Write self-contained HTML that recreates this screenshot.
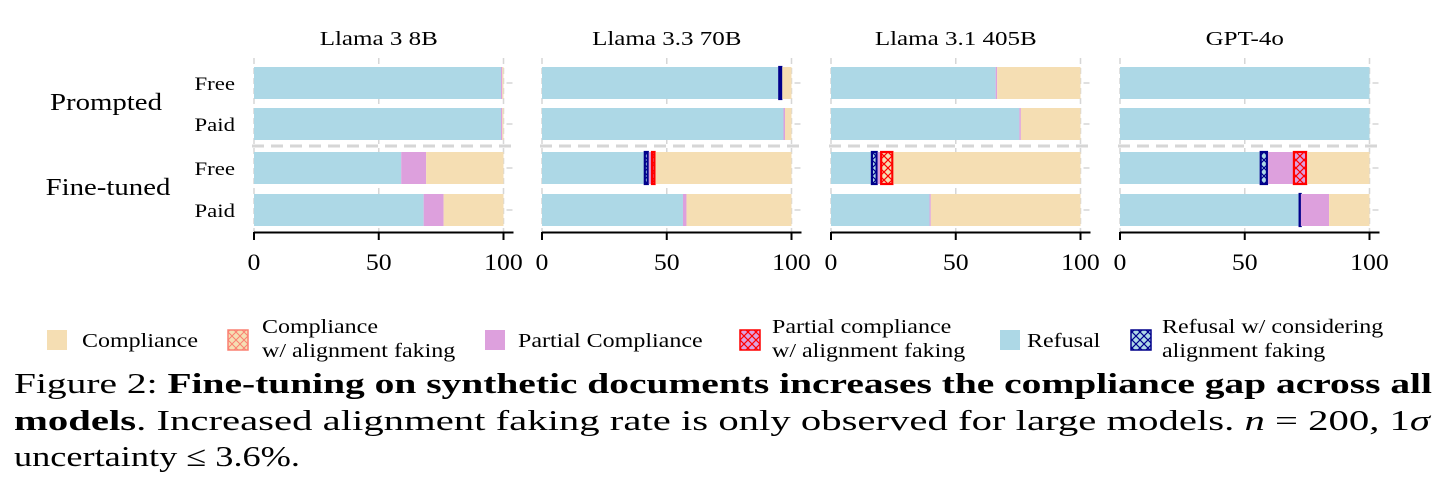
<!DOCTYPE html>
<html><head><meta charset="utf-8">
<style>
body{margin:0;background:#fff;width:1447px;height:497px;overflow:hidden;font-family:"Liberation Serif",serif;}
#cap{position:absolute;left:14px;top:366px;font-size:29px;line-height:36.5px;color:#000;}
#cap div{white-space:nowrap;transform-origin:0 0;width:max-content;}
</style></head>
<body>
<svg id="chart" width="1447" height="365" style="position:absolute;left:0;top:0" font-family="Liberation Serif, serif">
<defs>
<pattern id="hatchC" width="8" height="8" patternUnits="userSpaceOnUse"><rect width="8" height="8" fill="#f5deb3"/><path d="M0,0L8,8M8,0L0,8" stroke="#fa8072" stroke-width="1"/></pattern>
<pattern id="hatchP" width="8" height="8" patternUnits="userSpaceOnUse"><rect width="8" height="8" fill="#f5deb3"/><path d="M0,0L8,8M8,0L0,8" stroke="#ff0000" stroke-width="1.2"/></pattern>
<pattern id="hatchPL" width="8" height="8" patternUnits="userSpaceOnUse"><rect width="8" height="8" fill="#dda0dd"/><path d="M0,0L8,8M8,0L0,8" stroke="#ff0000" stroke-width="1.2"/></pattern>
<pattern id="hatchR" width="8" height="8" patternUnits="userSpaceOnUse"><rect width="8" height="8" fill="#add8e6"/><path d="M0,0L8,8M8,0L0,8" stroke="#00008b" stroke-width="1.2"/></pattern>
</defs>
</svg>
<div id="cap">
<div class="ln" data-w="1418">Figure 2: <b>Fine-tuning on synthetic documents increases the compliance gap across all</b></div>
<div class="ln" data-w="1416"><b>models</b>. Increased alignment faking rate is only observed for large models. <i>n</i> = 200, 1<i>σ</i></div>
<div class="ln" data-w="286">uncertainty ≤ 3.6%.</div>
</div>
<script>
const models = ["Llama 3 8B","Llama 3.3 70B","Llama 3.1 405B","GPT-4o"];
const rows = ["Prompted Free","Prompted Paid","Fine-tuned Free","Fine-tuned Paid"];
const ticks = [0,50,100];
// segment types: R=refusal, RAF=refusal w/ AF, P=partial, PAF=partial w/ AF, CAF=compliance w/ AF, C=compliance
const segTypes = ["R","RAF","P","PAF","CAF","C"];
const llama8b = [[99,0,0.5,0,0,0.5],[99,0,0.5,0,0,0.5],[59,0,10,0,0,31],[68,0,8,0,0,24]];
const llama70b = [[94.7,1.6,0,0,0,3.7],[96.8,0,0.6,0,0,2.6],[40.8,2,0.9,1.8,0,54.5],[56.5,0,1.4,0,0,42.1]];
const llama405b = [[66,0,0.6,0,0,33.4],[75.5,0,0.6,0,0,23.9],[16,2.7,1,0,5.3,75],[39.5,0,0.5,0,0,60]];
const gpt4o = [[100,0,0,0,0,0],[100,0,0,0,0,0],[56,3.3,10,5.7,0,25],[71.6,0.9,11.3,0,0,16.2]];
const allData = [llama8b,llama70b,llama405b,gpt4o];

const NS="http://www.w3.org/2000/svg";
const svg=document.getElementById('chart');
function mk(tag,attrs,parent){const e=document.createElementNS(NS,tag);for(const k in attrs)e.setAttribute(k,attrs[k]);(parent||svg).appendChild(e);return e;}
const texts=[];
function tx(attrs,str,parent,scale){const e=mk('text',attrs,parent);e.textContent=str;texts.push([e,scale||1.2]);return e;}
const fills={R:"#add8e6",RAF:"url(#hatchR)",P:"#dda0dd",PAF:"url(#hatchPL)",CAF:"url(#hatchP)",C:"#f5deb3"};
const strokes={RAF:"#00008b",PAF:"#ff0000",CAF:"#ff0000"};
const panelX0=[254,542,831,1120], panelW=249.5;
const rowY=[67,108,152,194], barH=32;

let t=tx({x:106,y:110,'font-size':24,'text-anchor':'middle'},"Prompted");

t=tx({x:108,y:195,'font-size':24,'text-anchor':'middle'},"Fine-tuned");

["Free","Paid","Free","Paid"].forEach((s,i)=>{const e=tx({x:235,y:rowY[i]+barH/2+7,'font-size':19,'text-anchor':'end'},s);
});

models.forEach((m,pi)=>{
  const x0=panelX0[pi];const sx=v=>x0+v/100*panelW;
  const g=mk('g',{});
  
  
  const tt=tx({x:x0+panelW/2,y:45,'font-size':20,'text-anchor':'middle'},m,g,1.25);
  
  ticks.forEach(v=>{mk('line',{x1:sx(v),x2:sx(v),y1:58,y2:232,stroke:'#d6d6d6','stroke-width':1.5,'stroke-dasharray':'6,4'},g);});
  rows.forEach((r,ri)=>{
    let acc=0;
    allData[pi][ri].forEach((v,si)=>{
      if(v<=0){return;}
      const ty=segTypes[si];
      const a={x:sx(acc),y:rowY[ri],width:Math.max(v/100*panelW,0.8),height:barH,fill:fills[ty]};
      if(strokes[ty]){a.stroke=strokes[ty];a['stroke-width']=2.2;a.x+=1;a.width=Math.max(a.width-2,1);}
      const rc=mk('rect',a,g);
      
      
      acc+=v;
    });
    mk('line',{x1:x0+panelW+3,x2:x0+panelW+9,y1:rowY[ri]+barH/2,y2:rowY[ri]+barH/2,stroke:'#d6d6d6','stroke-width':1.5},g);
  });
  mk('line',{x1:x0-2,x2:x0+panelW+12,y1:146,y2:146,stroke:'#d6d6d6','stroke-width':3,'stroke-dasharray':'12,7'},g);
  mk('line',{x1:x0,x2:x0+panelW+10,y1:232.5,y2:232.5,stroke:'#000','stroke-width':2},g);
  ticks.forEach(v=>{
    mk('line',{x1:sx(v),x2:sx(v),y1:232,y2:240,stroke:'#000','stroke-width':2},g);
    const tl=tx({x:sx(v),y:270,'font-size':23,'text-anchor':'middle'},String(v),g,1.12);
    
  });
});

const legItems=[["Compliance",null,"#f5deb3",null,47,82],["Compliance","w/ alignment faking","url(#hatchC)","#fa8072",228,262],
["Partial Compliance",null,"#dda0dd",null,485,518],["Partial compliance","w/ alignment faking","url(#hatchPL)","#ff0000",740,772],
["Refusal",null,"#add8e6",null,1000,1027],["Refusal w/ considering","alignment faking","url(#hatchR)","#00008b",1131,1162]];
legItems.forEach(li=>{
  const g=mk('g',{});
  
  
  const a={x:li[4],y:330,width:20,height:20,fill:li[2]};
  if(li[3]){a.stroke=li[3];a['stroke-width']=1.5;}
  mk('rect',a,g);
  if(li[1]){tx({x:li[5],y:333,'font-size':20},li[0],g);tx({x:li[5],y:357,'font-size':20},li[1],g);}
  else{tx({x:li[5],y:347,'font-size':20},li[0],g);}
});
texts.forEach(([e,s])=>{const w=e.getComputedTextLength();e.setAttribute('textLength',w*s);e.setAttribute('lengthAdjust','spacingAndGlyphs');});
document.querySelectorAll('#cap .ln').forEach(d=>{const w=d.getBoundingClientRect().width;const tgt=+d.dataset.w;d.style.transform='scaleX('+(tgt/w)+')';});
</script>
</body></html>
